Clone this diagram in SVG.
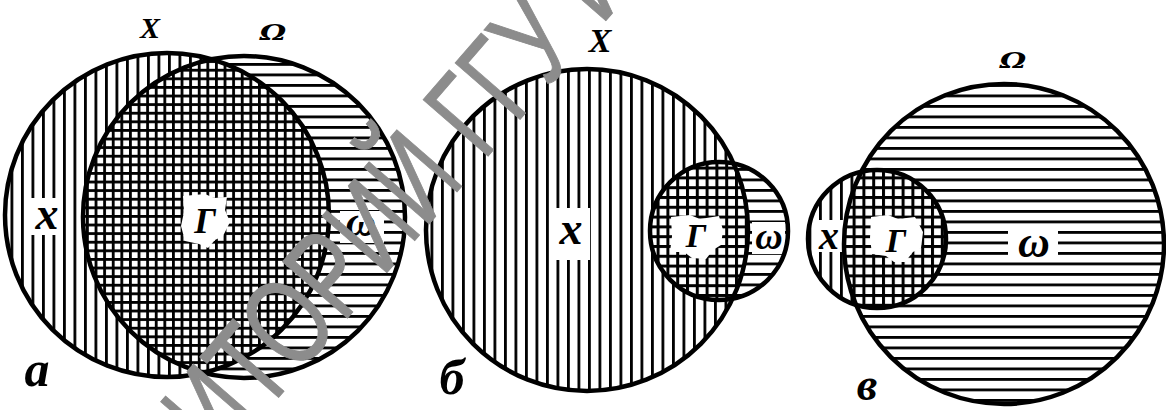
<svg xmlns="http://www.w3.org/2000/svg" width="1166" height="410" viewBox="0 0 1166 410">
<style>
.bg{fill:#fff}
.ol{fill:none;stroke:#000;stroke-width:4.5}
.wh{fill:#fff}
.lb{font-family:"Liberation Serif","DejaVu Serif",serif;font-style:italic;font-weight:bold;fill:#000;text-anchor:middle}
.om{font-family:"DejaVu Serif","Liberation Serif",serif;font-style:italic;font-weight:bold;fill:#000;text-anchor:middle}
.wm{font-family:"Liberation Sans","DejaVu Sans",sans-serif;fill:#8c8c8c;stroke:#8c8c8c;stroke-width:1}
</style>
<defs>
<pattern id="vh" width="10.5" height="10" patternUnits="userSpaceOnUse"><rect x="0" y="0" width="2.8" height="10" fill="#000"/></pattern>
<pattern id="hh" width="10" height="10.5" patternUnits="userSpaceOnUse"><rect x="0" y="0" width="10" height="2.8" fill="#000"/></pattern>
<pattern id="ga" width="8.6" height="8.6" patternUnits="userSpaceOnUse"><rect x="0" y="0" width="2.8" height="8.6" fill="#000"/><rect x="0" y="0" width="8.6" height="2.8" fill="#000"/></pattern>
<pattern id="gb" width="9.8" height="9.8" patternUnits="userSpaceOnUse"><rect x="0" y="0" width="3" height="9.8" fill="#000"/><rect x="0" y="0" width="9.8" height="3" fill="#000"/></pattern>
<clipPath id="cA"><circle cx="167" cy="215" r="162"/></clipPath>
<clipPath id="cB"><circle cx="587" cy="230" r="161"/></clipPath>
<clipPath id="cC"><circle cx="877" cy="239" r="69"/></clipPath>
</defs>
<rect class="bg" x="0" y="0" width="1166" height="410"/>

<g id="fig-a">
  <g id="a-X"><circle cx="167" cy="215" r="162" fill="url(#vh)"/></g>
  <g id="a-Omega"><circle cx="244" cy="217" r="161" fill="#fff"/><circle cx="244" cy="217" r="161" fill="url(#hh)"/></g>
  <g id="a-Gamma" clip-path="url(#cA)"><circle cx="244" cy="217" r="161" fill="#fff"/><circle cx="244" cy="217" r="161" fill="url(#ga)"/></g>
  <rect class="wh" x="30" y="198" width="33" height="37"/>
  <polygon class="wh" points="183,196 205,194 214,198 227,197 225,210 230,222 223,236 215,240 208,248 199,244 185,241 181,226 184,212"/>
  <rect class="wh" x="340" y="211" width="44" height="32"/>
  <circle class="ol" cx="167" cy="215" r="162"/>
  <circle class="ol" cx="244" cy="217" r="161"/>
  <text class="lb" x="150" y="38" font-size="30">X</text>
  <text class="om" transform="translate(273,40) scale(1.35,1)" x="0" y="0" font-size="22">Ω</text>
  <text class="lb" x="47" y="229" font-size="46">x</text>
  <text class="lb" x="205" y="233" font-size="36">Γ</text>
  <text class="lb" x="361" y="236" font-size="42">ω</text>
  <text class="lb" x="37" y="386" font-size="50">а</text>
</g>

<g id="fig-b">
  <g id="b-X"><circle cx="587" cy="230" r="161" fill="url(#vh)"/></g>
  <g id="b-Omega"><circle cx="719" cy="231" r="69" fill="#fff"/><circle cx="719" cy="231" r="69" fill="url(#hh)"/></g>
  <g id="b-Gamma" clip-path="url(#cB)"><circle cx="719" cy="231" r="69" fill="#fff"/><circle cx="719" cy="231" r="69" fill="url(#gb)"/></g>
  <rect class="wh" x="554" y="208" width="36" height="52"/>
  <polygon class="wh" points="671,217 690,215 700,219 719,216 723,230 721,245 713,250 706,259 692,258 684,252 670,252 672,236"/>
  <rect class="wh" x="752" y="222" width="33" height="32"/>
  <circle class="ol" cx="587" cy="230" r="161"/>
  <circle class="ol" cx="719" cy="231" r="69"/>
  <text class="lb" x="600" y="52" font-size="34">X</text>
  <text class="lb" x="571" y="244" font-size="46">x</text>
  <text class="lb" x="696" y="247" font-size="34">Γ</text>
  <text class="lb" x="769" y="249" font-size="38">ω</text>
  <text class="lb" x="452" y="394" font-size="50">б</text>
</g>

<g id="fig-c">
  <g id="c-X"><circle cx="877" cy="239" r="69" fill="url(#vh)"/></g>
  <g id="c-Omega"><circle cx="1004" cy="244" r="160" fill="#fff"/><circle cx="1004" cy="244" r="160" fill="url(#hh)"/></g>
  <g id="c-Gamma" clip-path="url(#cC)"><circle cx="1004" cy="244" r="160" fill="#fff"/><circle cx="1004" cy="244" r="160" fill="url(#gb)"/></g>
  <rect class="wh" x="816" y="220" width="27" height="32"/>
  <polygon class="wh" points="871,217 888,215 898,219 915,217 923,232 921,248 913,252 905,262 894,262 886,256 872,254 870,238"/>
  <rect class="wh" x="1008" y="230" width="50" height="32"/>
  <circle class="ol" cx="877" cy="239" r="69"/>
  <circle class="ol" cx="1004" cy="244" r="160"/>
  <text class="om" transform="translate(1013,68) scale(1.35,1)" x="0" y="0" font-size="22">Ω</text>
  <text class="lb" x="829" y="249" font-size="40">x</text>
  <text class="lb" x="896" y="252" font-size="34">Γ</text>
  <text class="lb" x="1034" y="257" font-size="44">ω</text>
  <text class="lb" x="867" y="400" font-size="46">в</text>
</g>

<g id="watermark">
  <text class="wm" transform="translate(18,697) rotate(-49) scale(0.72,1)" x="0" y="0" font-size="125">РЕПОЗИТОРИЙ ГГУ ИМЕНИ Ф. СКОРИНЫ</text>
</g>
</svg>
